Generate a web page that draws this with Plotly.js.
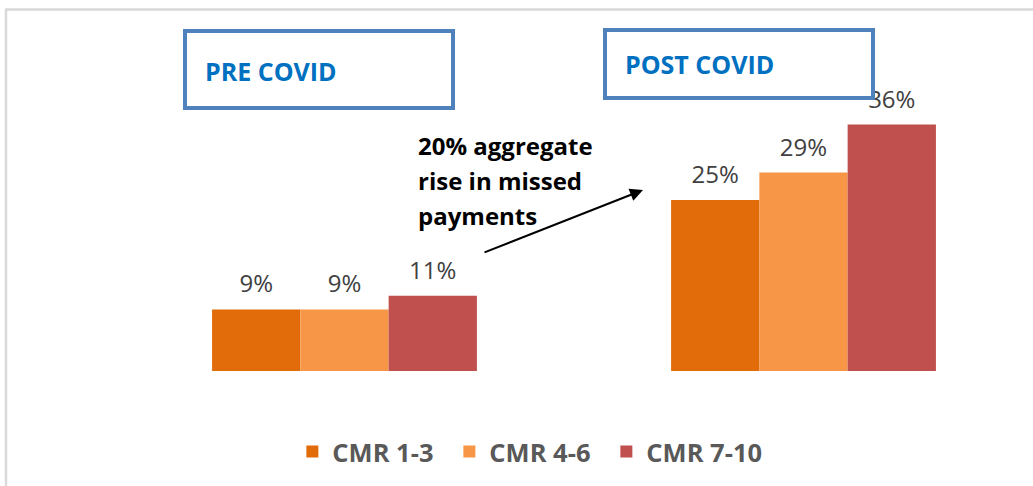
<!DOCTYPE html>
<html>
<head>
<meta charset="utf-8">
<script src="https://cdn.plot.ly/plotly-3.0.1.min.js"></script>
<style>html,body{margin:0;padding:0;background:#fff;}#chart{width:1033px;height:486px;}</style>
</head>
<body>
<div id="chart"></div>
<script>
// ---- data ----
const groups = ["PRE COVID", "POST COVID"];
const seriesNames = ["CMR 1-3", "CMR 4-6", "CMR 7-10"];
const cmr13 = [9, 25];
const cmr46 = [9, 29];
const cmr710 = [11, 36];
const callout = ["20% aggregate", "rise in missed", "payments"];

// ---- style ----
const colors = ["#E36C0A", "#F79646", "#C0504D"];
const W = 1033, H = 486, plotBottom = 371;
const bargap = 0.423;
const barW = (1 - bargap) / 3;
const px = x => x / W;
const py = y => (plotBottom - y) / plotBottom;
const groupX = groups.map((g, i) => i);
const allSeries = [cmr13, cmr46, cmr710];

const traces = [];
allSeries.forEach((vals, si) => {
  traces.push({
    type: "bar", name: seriesNames[si], x: groupX, y: vals,
    marker: {color: colors[si]}, hoverinfo: "skip"
  });
});
allSeries.forEach((vals, si) => {
  traces.push({
    type: "scatter", mode: "markers+text", showlegend: false, hoverinfo: "skip",
    x: groupX.map(g => g + (si - 1) * barW), y: vals,
    text: vals.map(v => v + "%"), textposition: "top center",
    textfont: {family: "Open Sans", size: 24, color: "#404040"},
    marker: {size: 16, opacity: 0}, cliponaxis: false
  });
});

const boxLine = {color: "#4F81BD", width: 4};
const shapes = [
  {type: "line", xref: "paper", yref: "paper", x0: px(5), x1: px(1040), y0: py(9.5), y1: py(9.5), line: {color: "#D9D9D9", width: 2.5}},
  {type: "line", xref: "paper", yref: "paper", x0: px(6), x1: px(6), y0: py(9.5), y1: py(490), line: {color: "#D9D9D9", width: 2.5}},
  {type: "rect", xref: "paper", yref: "paper", layer: "above", x0: px(185), x1: px(453), y0: py(31), y1: py(108), fillcolor: "#FFFFFF", line: boxLine},
  {type: "rect", xref: "paper", yref: "paper", layer: "above", x0: px(605), x1: px(873), y0: py(30), y1: py(98), fillcolor: "#FFFFFF", line: boxLine}
];

const titleFont = {family: "Open Sans", size: 25, color: "#0070C0", weight: 700};
const annotations = [
  {xref: "paper", yref: "paper", x: px(203), y: py(71), xanchor: "left", yanchor: "middle", showarrow: false, text: "<b>" + groups[0] + "</b>", font: titleFont},
  {xref: "paper", yref: "paper", x: px(623), y: py(64.5), xanchor: "left", yanchor: "middle", showarrow: false, text: "<b>" + groups[1] + "</b>", font: titleFont},
  {xref: "paper", yref: "paper", x: px(643), y: py(190), ax: -160, ay: 63, text: "", showarrow: true, arrowhead: 2, arrowsize: 1.3, arrowwidth: 2, arrowcolor: "#000"}
];
callout.forEach((t, i) => {
  annotations.push({xref: "paper", yref: "paper", x: px(416), y: py(145 + i * 35), xanchor: "left", yanchor: "middle", showarrow: false,
    text: "<b>" + t + "</b>", font: {family: "Open Sans", size: 24, color: "#000000"}});
});

const layout = {
  width: W, height: H,
  margin: {l: 0, r: 0, t: 0, b: H - plotBottom, pad: 0},
  paper_bgcolor: "#FFFFFF", plot_bgcolor: "#FFFFFF",
  barmode: "group", bargap: bargap, bargroupgap: 0,
  xaxis: {type: "linear", range: [-0.7505, 1.5], visible: false, fixedrange: true},
  yaxis: {range: [0, plotBottom / 6.845], visible: false, fixedrange: true},
  showlegend: true,
  legend: {orientation: "h", x: 0.511, xanchor: "center", y: py(452), yanchor: "middle",
    entrywidth: 112, entrywidthmode: "pixels",
    font: {family: "Open Sans", size: 25.5, color: "#595959", weight: 700}, traceorder: "normal"},
  shapes: shapes, annotations: annotations, hovermode: false
};

Plotly.newPlot("chart", traces, layout, {displayModeBar: false, staticPlot: true});
</script>
</body>
</html>
